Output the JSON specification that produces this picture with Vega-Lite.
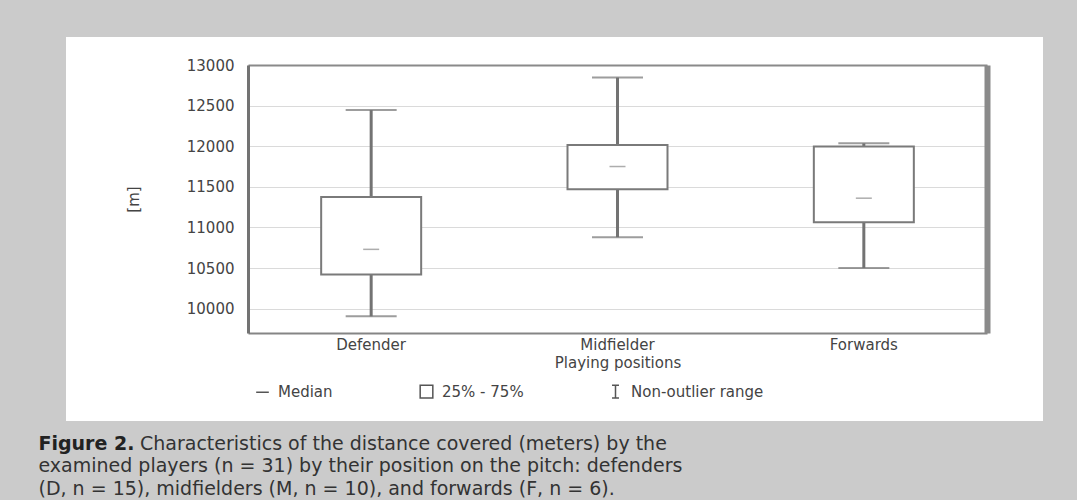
{
  "$schema": "https://vega.github.io/schema/vega-lite/v6.json",
  "width": 977,
  "height": 384,
  "autosize": {"type": "none"},
  "padding": {"left": 66, "top": 37, "right": 34, "bottom": 79},
  "background": "#cbcbcb",
  "title": {
    "text": "Characteristics of the distance covered (meters) by the",
    "orient": "top",
    "anchor": "start",
    "frame": "group",
    "offset": -417,
    "dx": 74,
    "baseline": "top",
    "font": "DejaVu Sans",
    "fontSize": 19,
    "fontWeight": "normal",
    "color": "#333333"
  },
  "config": {
    "view": {"fill": "#ffffff", "stroke": null},
    "font": "DejaVu Sans",
    "axis": {"labelFont": "DejaVu Sans", "titleFont": "DejaVu Sans"},
    "legend": {"labelFont": "DejaVu Sans"}
  },
  "datasets": {
    "stats": [
      {"pos": "Defender", "min": 9905, "q1": 10420, "median": 10730, "q3": 11375, "max": 12445},
      {"pos": "Midfielder", "min": 10880, "q1": 11470, "median": 11750, "q3": 12015, "max": 12845},
      {"pos": "Forwards", "min": 10500, "q1": 11065, "median": 11360, "q3": 11995, "max": 12035}
    ],
    "legendItems": [
      {"item": "Median"},
      {"item": "25% - 75%"},
      {"item": "Non-outlier range"}
    ]
  },
  "layer": [
    {
      "data": {"name": "stats"},
      "encoding": {
        "x": {
          "field": "pos",
          "type": "nominal",
          "title": "Playing positions",
          "scale": {"type": "band", "domain": ["Defender", "Midfielder", "Forwards"], "range": [182, 921], "paddingInner": 0, "paddingOuter": 0},
          "axis": {
            "orient": "bottom",
            "offset": -88,
            "labelAngle": 0,
            "labelFontSize": 15,
            "labelColor": "#444444",
            "labelPadding": 4,
            "ticks": false,
            "tickSize": 0,
            "domainColor": "#858585",
            "domainWidth": 2,
            "grid": false,
            "titleFontSize": 15,
            "titleFontWeight": "normal",
            "titleColor": "#444444",
            "titlePadding": 3
          }
        }
      },
      "layer": [
        {
          "mark": {"type": "rule", "color": "#737373", "strokeWidth": 3},
          "encoding": {
            "y": {
              "field": "min",
              "type": "quantitative",
              "title": "[m]",
              "scale": {"domain": [9700, 13000], "range": [296, 28], "nice": false, "zero": false},
              "axis": {
                "orient": "left",
                "offset": -182,
                "values": [10000, 10500, 11000, 11500, 12000, 12500, 13000],
                "format": "d",
                "labelFontSize": 15,
                "labelColor": "#444444",
                "labelPadding": 14,
                "ticks": false,
                "tickSize": 0,
                "domainColor": "#737373",
                "domainWidth": 3,
                "grid": true,
                "gridColor": "#dadada",
                "gridWidth": 1.2,
                "titleFontSize": 15,
                "titleFontWeight": "normal",
                "titleColor": "#444444",
                "titlePadding": 45
              }
            },
            "y2": {"field": "max"}
          }
        },
        {
          "mark": {"type": "tick", "color": "#737373", "size": 51, "thickness": 2},
          "encoding": {"y": {"field": "min", "type": "quantitative", "title": "[m]"}}
        },
        {
          "mark": {"type": "tick", "color": "#737373", "size": 51, "thickness": 2},
          "encoding": {"y": {"field": "max", "type": "quantitative", "title": "[m]"}}
        },
        {
          "mark": {"type": "bar", "fill": "#ffffff", "stroke": "#7a7a7a", "strokeWidth": 2, "size": 100},
          "encoding": {
            "y": {"field": "q1", "type": "quantitative", "title": "[m]"},
            "y2": {"field": "q3"}
          }
        },
        {
          "data": {"name": "legendItems"},
          "mark": {"type": "point", "opacity": 0, "filled": false, "color": "#555555"},
          "encoding": {
            "shape": {
              "field": "item",
              "type": "nominal",
              "scale": {
                "domain": ["Median", "25% - 75%", "Non-outlier range"],
                "range": ["M-1,0L1,0", "square", "M-0.55,-1L0.55,-1M0,-1L0,1M-0.55,1L0.55,1"]
              },
              "legend": {
                "orient": "none",
                "legendX": 189,
                "legendY": 347,
                "direction": "horizontal",
                "columns": 3,
                "title": null,
                "columnPadding": 84,
                "labelFontSize": 15,
                "labelColor": "#444444",
                "labelOffset": 8,
                "symbolSize": 160,
                "symbolStrokeWidth": 1.5,
                "symbolStrokeColor": "#555555",
                "symbolFillColor": "transparent",
                "symbolOpacity": 1
              }
            }
          }
        }
      ]
    },
    {
      "data": {"name": "stats"},
      "mark": {"type": "tick", "color": "#8a8a8a", "size": 16, "thickness": 1.5},
      "encoding": {
        "x": {
          "field": "pos",
          "type": "nominal",
          "title": "Figure 2.",
          "axis": {
            "orient": "top",
            "offset": -28,
            "labels": false,
            "ticks": false,
            "grid": false,
            "domainColor": "#8a8a8a",
            "domainWidth": 2,
            "titleFontSize": 19,
            "titleFontWeight": "bold",
            "titleColor": "#222222",
            "titleX": -28,
            "titleY": 369,
            "titleAlign": "left",
            "titleBaseline": "top",
            "titleAngle": 0
          }
        },
        "y": {
          "field": "median",
          "type": "quantitative",
          "title": [
            "examined players (n = 31) by their position on the pitch: defenders",
            "(D, n = 15), midfielders (M, n = 10), and forwards (F, n = 6)."
          ],
          "axis": {
            "orient": "right",
            "offset": -56,
            "labels": false,
            "ticks": false,
            "grid": false,
            "domainColor": "#8a8a8a",
            "domainWidth": 6,
            "titleX": -949,
            "titleY": 419.5,
            "titleAngle": 0,
            "titleAlign": "left",
            "titleBaseline": "top",
            "titleFontSize": 19,
            "titleFontWeight": "normal",
            "titleColor": "#333333",
            "titleLineHeight": 22.5
          }
        }
      }
    }
  ],
  "resolve": {"axis": {"x": "independent", "y": "independent"}}
}
